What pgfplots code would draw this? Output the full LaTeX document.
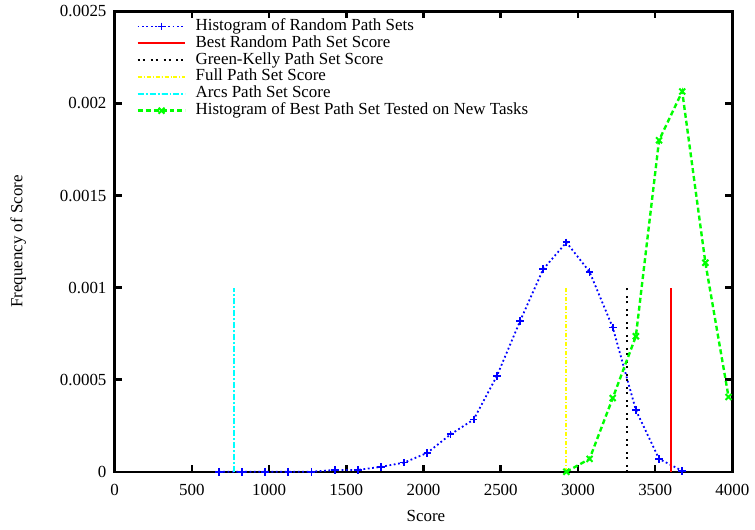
\documentclass[border=0pt]{standalone}
\usepackage{pgfplots}
\pgfplotsset{compat=1.18}
\usepackage{fontspec}
\setmainfont{Liberation Serif}
\definecolor{gblue}{RGB}{0,0,255}
\definecolor{gred}{RGB}{255,0,0}
\definecolor{ggreen}{RGB}{0,255,0}
\definecolor{gyellow}{RGB}{255,255,0}
\definecolor{gcyan}{RGB}{0,255,255}
\begin{document}
\fontsize{17}{20}\selectfont
\begin{tikzpicture}
\begin{axis}[
  name=ax,
  scale only axis, width=620pt, height=462pt,
  xmin=0, xmax=4000, ymin=0, ymax=0.0025,
  xtick={0,500,1000,1500,2000,2500,3000,3500,4000},
  xticklabels={0,500,1000,1500,2000,2500,3000,3500,4000},
  ytick={0,0.0005,0.001,0.0015,0.002,0.0025},
  yticklabels={0,0.0005,0.001,0.0015,0.002,0.0025},
  scaled x ticks=false, scaled y ticks=false,
  tick align=inside, major tick length=7pt,
  axis line style={line width=2.5pt},
  every tick/.style={black, line width=2.5pt},
  xticklabel style={yshift=-6.5pt},
  yticklabel style={xshift=-2.3pt},
  xlabel={Score}, ylabel={Frequency of Score},
  xlabel style={at={(axis description cs:0.504,-0.095)}, anchor=center},
  ylabel style={at={(axis description cs:-0.156,0.5)}, anchor=center},
  clip=false,
  legend cell align=left,
  legend style={draw=none, fill=none, at={(axis description cs:0.035,0.985)}, anchor=north west,
    inner sep=0pt, nodes={inner sep=0pt, text height=12pt, text depth=4pt}, row sep=0.9pt, column sep=9pt},
  legend image code/.code={\draw[mark repeat=2, mark phase=2] plot coordinates {(0pt,0pt) (24pt,0pt) (48pt,0pt)};},
]
\addplot[color=gblue, line width=1.8pt, dash pattern=on 1.8pt off 2.6pt, mark=+, mark size=3.8pt, mark options={solid, line width=1.8pt}] coordinates {
(675,0) (825,0) (975,0) (1125,0) (1275,0) (1425,0.00001) (1575,0.00001)
(1725,0.000027) (1875,0.00005) (2025,0.000103) (2175,0.000203) (2325,0.000284)
(2475,0.00052) (2625,0.000818) (2775,0.0011) (2925,0.001246) (3075,0.001086)
(3225,0.000784) (3375,0.000335) (3525,0.00007) (3675,0.000005)
};
\addlegendentry{Histogram of Random Path Sets}
\addplot[color=gred, line width=2pt, solid] coordinates {(3600,0) (3600,0.001)};
\addlegendentry{Best Random Path Set Score}
\addplot[color=black, line width=2pt, dash pattern=on 2pt off 3pt on 2pt off 6pt] coordinates {(3320,0) (3320,0.001)};
\addlegendentry{Green-Kelly Path Set Score}
\addplot[color=gyellow, line width=2pt, dash pattern=on 4pt off 2pt on 1pt off 2pt] coordinates {(2920,0) (2920,0.001)};
\addlegendentry{Full Path Set Score}
\addplot[color=gcyan, line width=2pt, dash pattern=on 6pt off 2pt on 2pt off 2pt] coordinates {(775,0) (775,0.001)};
\addlegendentry{Arcs Path Set Score}
\addplot[color=ggreen, line width=2.4pt, dash pattern=on 5pt off 3pt, mark=x, mark size=4.2pt, mark options={solid, line width=2pt}] coordinates {
(2925,0) (3075,0.00007) (3225,0.0004) (3375,0.000736) (3525,0.0018)
(3675,0.002065) (3825,0.001135) (3975,0.000406)
};
\addlegendentry{Histogram of Best Path Set Tested on New Tasks}
\end{axis}
\path (ax.south west) ++(-115pt,-58pt) (ax.north east) ++(20pt,11pt);
\end{tikzpicture}
\end{document}
